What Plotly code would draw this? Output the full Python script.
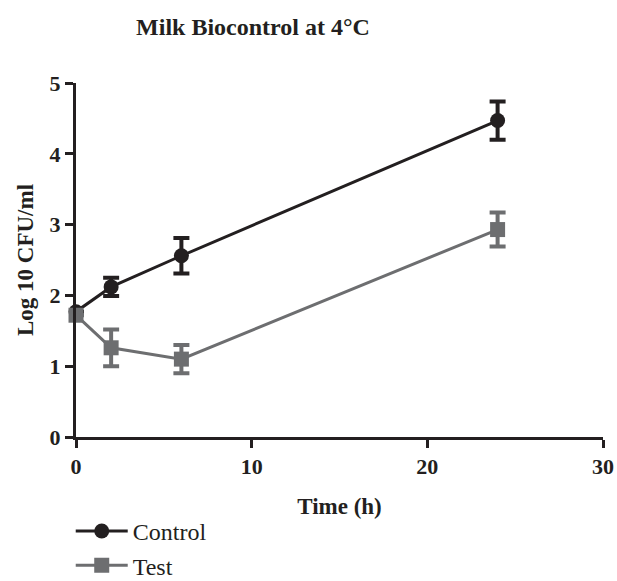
import plotly.graph_objects as go

time_h = [0, 2, 6, 24]
control = [1.77, 2.12, 2.56, 4.47]
control_err = [0.0, 0.13, 0.25, 0.27]
test = [1.72, 1.26, 1.10, 2.93]
test_err = [0.0, 0.26, 0.20, 0.24]
x_ticks = [0, 10, 20, 30]
y_ticks = [0, 1, 2, 3, 4, 5]

black = "#231f20"
gray = "#6d6e70"
font = "Times New Roman, Liberation Serif, serif"

fig = go.Figure()
fig.add_trace(go.Scatter(
    x=time_h, y=control, name="Control", mode="lines+markers", legendgroup="c",
    line=dict(color=black, width=3),
    marker=dict(symbol="circle", size=15, color=black),
    error_y=dict(type="data", array=control_err, color=black, thickness=4, width=8),
    cliponaxis=False,
))
fig.add_trace(go.Scatter(
    x=time_h, y=test, name="Test", mode="lines+markers", legendgroup="t",
    line=dict(color=gray, width=3),
    marker=dict(symbol="square", size=15, color=gray),
    error_y=dict(type="data", array=test_err, color=gray, thickness=4, width=8),
    cliponaxis=False,
))

tickf = dict(size=22, family=font, color=black)
fig.update_layout(
    width=617, height=581,
    margin=dict(l=76, r=14, t=83, b=144, autoexpand=False),
    plot_bgcolor="white", paper_bgcolor="white",
    font=dict(family=font, color=black),
    title=dict(text="<b>Milk Biocontrol at 4°C</b>", x=253/617, xanchor="center",
               y=1-27/581, yanchor="middle", font=dict(size=24, family=font, color=black)),
    xaxis=dict(range=[0, 30], tickvals=x_ticks, ticktext=[f"<b>{v}</b>" for v in x_ticks],
               showline=True, linecolor=black, linewidth=3,
               ticks="outside", ticklen=8, tickwidth=3, tickcolor=black, showgrid=False, zeroline=False,
               tickfont=tickf, automargin=False,
               title=dict(text="<b>Time (h)</b>", font=dict(size=23, family=font, color=black), standoff=20)),
    yaxis=dict(range=[0, 5], tickvals=y_ticks, ticktext=[f"<b>{v}</b>" for v in y_ticks],
               showline=True, linecolor=black, linewidth=3,
               ticks="outside", ticklen=8, tickwidth=3, tickcolor=black, showgrid=False, zeroline=False,
               tickfont=tickf, automargin=False,
               title=dict(text="<b>Log 10 CFU/ml</b>", font=dict(size=23, family=font, color=black), standoff=10)),
    legend=dict(x=-0.01, y=-0.203, xanchor="left", yanchor="top", font=dict(size=24, family=font, color=black),
                bgcolor="rgba(0,0,0,0)", tracegroupgap=0, itemwidth=52),
    showlegend=True,
)

fig.write_html("out.html")
